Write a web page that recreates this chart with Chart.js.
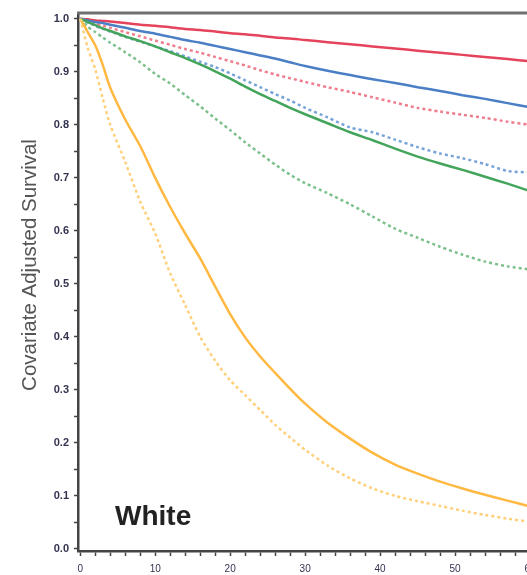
<!DOCTYPE html>
<html>
<head>
<meta charset="utf-8">
<script src="https://cdn.jsdelivr.net/npm/chart.js@4/dist/chart.umd.min.js"></script>
<style>
  html, body { margin: 0; padding: 0; background: #fff; overflow: hidden; }
  #wrap { width: 640px; height: 575px; }
</style>
</head>
<body>
<div id="wrap"><canvas id="survivalChart" width="640" height="575"></canvas></div>
<script>
  // Follow-up time points (x axis)
  const timePoints = [0, 1, 2, 3, 4, 6, 8, 10, 12, 14, 16, 18, 20, 22, 24, 26, 28, 30, 33, 36, 39, 42, 45, 48, 51, 54, 57, 60];

  // Covariate adjusted survival
  const redSolid = [1.0, 0.999, 0.997, 0.996, 0.995, 0.992, 0.989, 0.987, 0.984, 0.981, 0.979, 0.976, 0.973, 0.971, 0.968, 0.965, 0.963, 0.96, 0.956, 0.952, 0.948, 0.944, 0.94, 0.936, 0.932, 0.928, 0.924, 0.92];
  const redDashed = [1.0, 0.995, 0.991, 0.987, 0.983, 0.975, 0.967, 0.959, 0.951, 0.943, 0.936, 0.928, 0.92, 0.912, 0.903, 0.895, 0.888, 0.881, 0.871, 0.862, 0.852, 0.842, 0.832, 0.825, 0.819, 0.813, 0.806, 0.8];
  const blueSolid = [1.0, 0.997, 0.994, 0.992, 0.989, 0.983, 0.977, 0.972, 0.966, 0.96, 0.955, 0.949, 0.943, 0.937, 0.931, 0.925, 0.918, 0.911, 0.902, 0.894, 0.886, 0.879, 0.871, 0.864, 0.856, 0.849, 0.841, 0.833];
  const blueDashed = [1.0, 0.993, 0.987, 0.981, 0.976, 0.966, 0.957, 0.948, 0.939, 0.929, 0.919, 0.909, 0.897, 0.884, 0.871, 0.858, 0.846, 0.832, 0.814, 0.795, 0.786, 0.772, 0.758, 0.746, 0.737, 0.726, 0.713, 0.71];
  const greenSolid = [1.0, 0.994, 0.988, 0.982, 0.977, 0.967, 0.958, 0.948, 0.937, 0.926, 0.914, 0.901, 0.887, 0.872, 0.858, 0.845, 0.832, 0.82, 0.803, 0.786, 0.771, 0.755, 0.74, 0.727, 0.715, 0.702, 0.689, 0.675];
  const greenDashed = [1.0, 0.985, 0.975, 0.965, 0.955, 0.937, 0.918, 0.896, 0.878, 0.856, 0.835, 0.812, 0.79, 0.767, 0.746, 0.725, 0.706, 0.69, 0.671, 0.65, 0.627, 0.604, 0.587, 0.57, 0.555, 0.542, 0.533, 0.527];
  const orangeSolid = [1.0, 0.975, 0.95, 0.913, 0.87, 0.81, 0.76, 0.7, 0.645, 0.595, 0.548, 0.495, 0.443, 0.399, 0.363, 0.332, 0.302, 0.274, 0.238, 0.208, 0.181, 0.159, 0.142, 0.127, 0.114, 0.102, 0.091, 0.08];
  const orangeDashed = [1.0, 0.945, 0.905, 0.85, 0.8, 0.73, 0.655, 0.595, 0.52, 0.46, 0.4, 0.355, 0.318, 0.29, 0.262, 0.234, 0.21, 0.187, 0.157, 0.133, 0.114, 0.1, 0.09, 0.081, 0.072, 0.064, 0.057, 0.051];

  // Axis ticks (labelled ones plus the minor marks in between)
  const xTickValues = [0, 2, 4, 6, 8, 10, 12, 14, 16, 18, 20, 22, 24, 26, 28, 30, 32, 34, 36, 38, 40, 42, 44, 46, 48, 50, 52, 54, 56, 58, 60, 62, 64, 66, 68, 70];
  const xTickLabels = ["0", "10", "20", "30", "40", "50", "60", "70"];
  const yTickValues = [0, 0.05, 0.1, 0.15, 0.2, 0.25, 0.3, 0.35, 0.4, 0.45, 0.5, 0.55, 0.6, 0.65, 0.7, 0.75, 0.8, 0.85, 0.9, 0.95, 1.0];
  const yTickLabels = ["0.0", "0.1", "0.2", "0.3", "0.4", "0.5", "0.6", "0.7", "0.8", "0.9", "1.0"];

  const panelLabel = "White";
  const yTitle = "Covariate Adjusted Survival";

  function toPoints(values) {
    return timePoints.map((t, i) => ({ x: t, y: values[i] }));
  }

  function curve(values, color, dashed) {
    return {
      data: toPoints(values),
      borderColor: color,
      borderWidth: 2.5,
      borderDash: dashed ? [3, 3] : [],
      pointRadius: 0,
      tension: 0.25,
      fill: false,
    };
  }

  function isMajor(v, step) {
    const r = v / step;
    return Math.abs(r - Math.round(r)) < 1e-6;
  }

  // Frame on the top/right side plus the panel label and axis title
  const decorations = {
    id: "decorations",
    afterDraw(chart) {
      const { ctx, chartArea } = chart;
      ctx.save();
      ctx.strokeStyle = "#707070";
      ctx.lineWidth = 3;
      ctx.beginPath();
      ctx.moveTo(chartArea.left - 1, chartArea.top);
      ctx.lineTo(chartArea.right, chartArea.top);
      ctx.lineTo(chartArea.right, chartArea.bottom);
      ctx.stroke();

      ctx.fillStyle = "#222";
      ctx.font = "bold 28px Arial, 'Liberation Sans', sans-serif";
      ctx.textBaseline = "alphabetic";
      ctx.fillText(panelLabel, 115, 525);

      ctx.translate(36, 265);
      ctx.rotate(-Math.PI / 2);
      ctx.fillStyle = "#555";
      ctx.font = "20.5px Arial, 'Liberation Sans', sans-serif";
      ctx.textAlign = "center";
      ctx.fillText(yTitle, 0, 0);
      ctx.restore();
    },
  };

  const ctx = document.getElementById("survivalChart").getContext("2d");

  new Chart(ctx, {
    type: "line",
    data: {
      datasets: [
        curve(orangeDashed, "#ffcf7a", true),
        curve(orangeSolid, "#ffb943", false),
        curve(greenDashed, "#7cc08c", true),
        curve(greenSolid, "#43a45b", false),
        curve(blueDashed, "#77a3d8", true),
        curve(blueSolid, "#4a7fc6", false),
        curve(redDashed, "#ef7d8c", true),
        curve(redSolid, "#e5435b", false),
      ],
    },
    options: {
      responsive: false,
      animation: false,
      layout: { padding: { top: 13, right: 35, left: 0, bottom: 0 } },
      plugins: {
        legend: { display: false },
        tooltip: { enabled: false },
      },
      scales: {
        x: {
          type: "linear",
          min: -0.3,
          max: 70,
          afterFit: (scale) => {
            scale.height = 24;
          },
          afterBuildTicks: (scale) => {
            scale.ticks = xTickValues.map((v) => ({ value: v }));
          },
          ticks: {
            autoSkip: false,
            maxRotation: 0,
            padding: 7,
            color: "#333350",
            font: { family: "Arial, 'Liberation Sans', sans-serif", size: 10 },
            callback: (v) => (isMajor(v, 10) ? xTickLabels[Math.round(v / 10)] : ""),
          },
          grid: {
            display: true,
            drawOnChartArea: false,
            drawTicks: true,
            tickLength: 5,
            tickColor: "#444",
            tickWidth: 1.5,
          },
          border: { display: true, color: "#444", width: 2.5 },
        },
        y: {
          type: "linear",
          min: -0.004,
          max: 1.011,
          afterFit: (scale) => {
            scale.width = 78;
          },
          afterBuildTicks: (scale) => {
            scale.ticks = yTickValues.map((v) => ({ value: v }));
          },
          ticks: {
            autoSkip: false,
            padding: 5,
            color: "#333350",
            font: { family: "Arial, 'Liberation Sans', sans-serif", size: 11, weight: "bold" },
            callback: (v) => (isMajor(v, 0.1) ? yTickLabels[Math.round(v * 10)] : ""),
          },
          grid: {
            display: true,
            drawOnChartArea: false,
            drawTicks: true,
            tickLength: 4,
            tickColor: "#444",
            tickWidth: 1.5,
          },
          border: { display: true, color: "#444", width: 2.5 },
        },
      },
    },
    plugins: [decorations],
  });
</script>
</body>
</html>
